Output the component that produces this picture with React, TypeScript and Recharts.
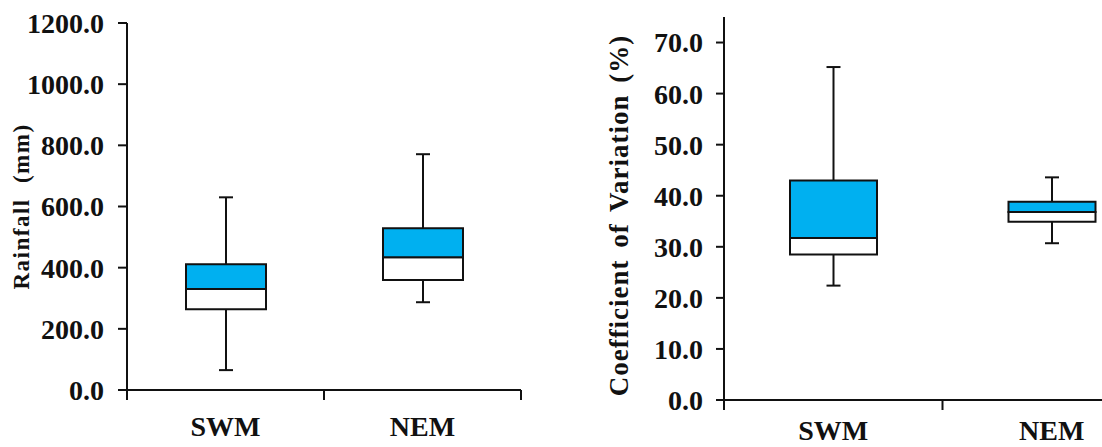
import { BarChart, Bar, XAxis, YAxis } from "recharts";

const categories = ["SWM", "NEM"];

// Rainfall (mm)
const rainMin = [65, 287];
const rainQ1 = [264, 360];
const rainMedian = [330, 434];
const rainQ3 = [411, 529];
const rainMax = [630, 771];
const rainTicks = [0, 200, 400, 600, 800, 1000, 1200];

// Coefficient of variation (%)
const cvMin = [22.4, 30.7];
const cvQ1 = [28.5, 34.9];
const cvMedian = [31.7, 36.8];
const cvQ3 = [43.0, 38.8];
const cvMax = [65.2, 43.6];
const cvTicks = [0, 10, 20, 30, 40, 50, 60, 70];

const FONT = '"Liberation Serif", "Times New Roman", serif';
const INK = "#111";
const BLUE = "#00B0F0";
const TICK_FS = 28;

// stacked segments: invisible base, lower whisker, lower box, upper box, upper whisker
function buildRows(min: number[], q1: number[], med: number[], q3: number[], max: number[]) {
  return categories.map((name, i) => ({
    name,
    base: min[i],
    lowWhisker: q1[i] - min[i],
    lowerBox: med[i] - q1[i],
    upperBox: q3[i] - med[i],
    highWhisker: max[i] - q3[i],
  }));
}

const rainRows = buildRows(rainMin, rainQ1, rainMedian, rainQ3, rainMax);
const cvRows = buildRows(cvMin, cvQ1, cvMedian, cvQ3, cvMax);

function Whisker(props: any) {
  const { x, y, width, height, cap } = props;
  if (x == null || y == null) return null;
  const cx = x + width / 2;
  const capY = cap === "top" ? y : y + height;
  return (
    <g>
      <line x1={cx} x2={cx} y1={y} y2={y + height} stroke={INK} strokeWidth={2} />
      <line x1={cx - 7} x2={cx + 7} y1={capY} y2={capY} stroke={INK} strokeWidth={2} />
    </g>
  );
}

// category label plus Excel-style tick marks on the category boundaries
function CategoryTick(props: any) {
  const { x, y, payload, index, visibleTicksCount, half, gap } = props;
  const last = index === visibleTicksCount - 1;
  return (
    <g>
      <line x1={x - half} x2={x - half} y1={y} y2={y + 10} stroke={INK} strokeWidth={2} />
      {last && <line x1={x + half} x2={x + half} y1={y} y2={y + 10} stroke={INK} strokeWidth={2} />}
      <text
        x={x}
        y={y + gap}
        dy="0.71em"
        textAnchor="middle"
        fontFamily={FONT}
        fontWeight={700}
        fontSize={TICK_FS}
        fill={INK}
      >
        {payload.value}
      </text>
    </g>
  );
}

function yTitle(text: string, cx: number, size: number, spacing: number, words: number, shift: number) {
  return (props: any) => {
    const vb = props.viewBox || { y: 0, height: 0 };
    const cy = vb.y + vb.height / 2 + shift;
    return (
      <text
        x={cx}
        y={cy}
        transform={`rotate(-90 ${cx} ${cy})`}
        textAnchor="middle"
        dominantBaseline="central"
        fontFamily={FONT}
        fontWeight={700}
        fontSize={size}
        letterSpacing={spacing}
        wordSpacing={words}
        fill={INK}
      >
        {text}
      </text>
    );
  };
}

function BoxPanel(props: any) {
  const {
    rows, width, margin, yWidth, domain, ticks, barSize, half, gap,
    xHeight, tickSize, tickMargin, title,
  } = props;
  return (
    <BarChart width={width} height={447} data={rows} margin={margin} barSize={barSize}>
      <XAxis
        dataKey="name"
        height={xHeight}
        interval={0}
        tickLine={false}
        tickSize={0}
        tickMargin={0}
        axisLine={{ stroke: INK, strokeWidth: 2 }}
        tick={<CategoryTick half={half} gap={gap} />}
      />
      <YAxis
        width={yWidth}
        domain={domain}
        ticks={ticks}
        interval={0}
        allowDataOverflow
        tickSize={tickSize}
        tickMargin={tickMargin}
        tickFormatter={(v: number) => v.toFixed(1)}
        axisLine={{ stroke: INK, strokeWidth: 2 }}
        tickLine={{ stroke: INK, strokeWidth: 2 }}
        tick={{ fontSize: TICK_FS, fontWeight: 700, fill: INK, fontFamily: FONT }}
        label={title}
      />
      <Bar dataKey="base" stackId="box" fill="transparent" isAnimationActive={false} />
      <Bar
        dataKey="lowWhisker"
        stackId="box"
        isAnimationActive={false}
        shape={(p: any) => <Whisker {...p} cap="bottom" />}
      />
      <Bar dataKey="lowerBox" stackId="box" fill="#fff" stroke={INK} strokeWidth={2} isAnimationActive={false} />
      <Bar dataKey="upperBox" stackId="box" fill={BLUE} stroke={INK} strokeWidth={2} isAnimationActive={false} />
      <Bar
        dataKey="highWhisker"
        stackId="box"
        isAnimationActive={false}
        shape={(p: any) => <Whisker {...p} cap="top" />}
      />
    </BarChart>
  );
}

export default function App() {
  return (
    <div
      style={{
        position: "absolute",
        left: 0,
        top: 0,
        width: 1102,
        height: 447,
        overflow: "hidden",
        background: "#fff",
      }}
    >
      <div style={{ position: "absolute", left: 0, top: 0 }}>
        <BoxPanel
          rows={rainRows}
          width={560}
          margin={{ top: 23, right: 39, left: 0, bottom: 7 }}
          yWidth={127}
          xHeight={50}
          domain={[0, 1200]}
          ticks={rainTicks}
          barSize={80}
          half={98.5}
          gap={26}
          tickSize={9}
          tickMargin={14}
          title={yTitle("Rainfall (mm)", 21, 23, 1.5, 8, 0)}
        />
      </div>
      <div style={{ position: "absolute", left: 580, top: 0 }}>
        <BoxPanel
          rows={cvRows}
          width={600}
          margin={{ top: 17, right: 19, left: 0, bottom: 7 }}
          yWidth={144}
          xHeight={40}
          domain={[0, 75]}
          ticks={cvTicks}
          barSize={87}
          half={109.25}
          gap={20}
          tickSize={8}
          tickMargin={13}
          title={yTitle("Coefficient of Variation (%)", 39, 27, 1, 4, 7)}
        />
      </div>
    </div>
  );
}
